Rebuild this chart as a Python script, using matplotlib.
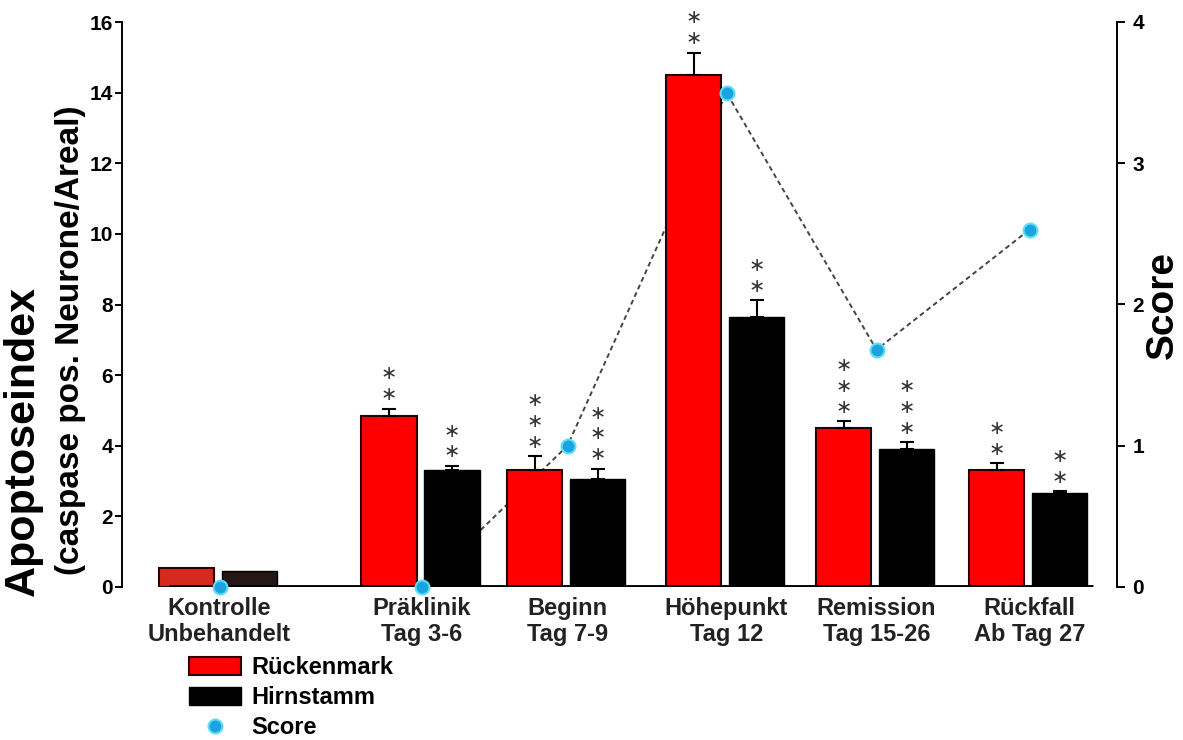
import numpy as np
import matplotlib
matplotlib.use('Agg')
import matplotlib.pyplot as plt
from matplotlib.patches import Patch
from matplotlib.lines import Line2D

plt.rcParams['font.family'] = ['Liberation Sans', 'DejaVu Sans']
plt.rcParams['font.weight'] = 'bold'

# Daten
gruppen = ['Kontrolle\nUnbehandelt', 'Präklinik\nTag 3-6', 'Beginn\nTag 7-9',
           'Höhepunkt\nTag 12', 'Remission\nTag 15-26', 'Rückfall\nAb Tag 27']
x_pos = [0.65, 2.0, 2.97, 4.03, 5.03, 6.05]
rueckenmark = [0.55, 4.85, 3.3, 14.5, 4.5, 3.3]
rueckenmark_err = [0.0, 0.2, 0.4, 0.63, 0.2, 0.2]
hirnstamm = [0.45, 3.3, 3.05, 7.65, 3.9, 2.65]
hirnstamm_err = [0.0, 0.13, 0.3, 0.48, 0.2, 0.07]
score = [0.0, 0.0, 1.0, 3.5, 1.68, 2.53]
sterne_rm = [0, 2, 3, 2, 3, 2]
sterne_hs = [0, 2, 3, 2, 3, 2]

x = np.array(x_pos)
breite = 0.37
x_rm = x - 0.22
x_hs = x + 0.20

fig = plt.figure(figsize=(11.83, 7.4), dpi=100)
ax = fig.add_axes([122/1183, 1-587/740, 995/1183, 565/740])
ax2 = ax.twinx()
ax.set_zorder(2)
ax2.set_zorder(1)
ax.patch.set_visible(False)

farbe_rm = ['#d42a20'] + ['#ff0000']*5
farbe_hs = ['#231815'] + ['#000000']*5
ax.bar(x_rm, rueckenmark, breite, color=farbe_rm, edgecolor='#2a0000', linewidth=1.5, zorder=2)
ax.bar(x_hs, hirnstamm, breite, color=farbe_hs, edgecolor='#000000', linewidth=1.0, zorder=2)

nul = np.zeros(5)
ax.errorbar(x_rm[1:], rueckenmark[1:], yerr=[nul, rueckenmark_err[1:]], fmt='none',
            ecolor='black', elinewidth=1.5, capsize=5, capthick=1.5, zorder=3)
ax.errorbar(x_hs[1:], hirnstamm[1:], yerr=[nul, hirnstamm_err[1:]], fmt='none',
            ecolor='black', elinewidth=1.5, capsize=5, capthick=1.5, zorder=3)

# Sterne
for xs, ys, es, ns in [(x_rm, rueckenmark, rueckenmark_err, sterne_rm),
                       (x_hs, hirnstamm, hirnstamm_err, sterne_hs)]:
    for xi, yi, ei, n in zip(xs, ys, es, ns):
        for k in range(n):
            ax.annotate('\u2217', (xi, yi + ei), xytext=(0, 10 + 15*k),
                        textcoords='offset points', ha='center', va='center',
                        fontsize=14, color='#333333', family='DejaVu Sans',
                        fontweight='normal', zorder=4)

ax.hlines(0, 0.31, 6.47, color='black', lw=3.5, zorder=3)

# Score
ax2.plot(x, score, color='#444444', lw=1.4, ls=(0, (2.5, 1.8)), zorder=1)
ax.plot(x, score, 'o', transform=ax2.transData, ms=10, color='#1aa3e0',
        mec='#60dcf5', mew=1.5, clip_on=False, zorder=5)

ax.set_xlim(0, 995/150)
ax.set_ylim(0, 16)
ax2.set_ylim(0, 4)
ax.set_yticks(np.arange(0, 17, 2))
ax2.set_yticks(np.arange(0, 5, 1))
ax.set_xticks(x)
ax.set_xticklabels(gruppen, fontsize=17, color='#222222', linespacing=1.2)
ax.tick_params(axis='x', length=0, pad=7)
ax.tick_params(axis='y', length=5, width=1.4, labelsize=15, pad=1.5)
ax2.tick_params(axis='y', length=6, width=1.4, labelsize=15, pad=5)

for a in (ax, ax2):
    a.spines['top'].set_visible(False)
    a.spines['bottom'].set_visible(False)
ax.spines['right'].set_visible(False)
ax2.spines['left'].set_visible(False)
ax.spines['left'].set_linewidth(1.4)
ax2.spines['right'].set_linewidth(1.4)

fig.text(23/1183, 1-441/740, 'Apoptoseindex', rotation=90, ha='center', va='center',
         fontsize=31, fontweight='bold')
fig.text(71/1183, 1-340/740, '(caspase pos. Neurone/Areal)', rotation=90, ha='center',
         va='center', fontsize=24, fontweight='bold')
fig.text(1163/1183, 1-305/740, 'Score', rotation=90, ha='center', va='center',
         fontsize=28, fontweight='bold')

handles = [Patch(facecolor='#ff0000', edgecolor='#2a0000', lw=1.5),
           Patch(facecolor='black', edgecolor='black'),
           Line2D([], [], marker='o', ls='none', ms=10, color='#1aa3e0', mec='#60dcf5', mew=1.5)]
fig.legend(handles, ['Rückenmark', 'Hirnstamm', 'Score'], loc='upper left',
           bbox_to_anchor=(189/1183, 1-656/740), frameon=False, fontsize=17,
           handlelength=2.2, handleheight=0.8, labelspacing=0.3, handletextpad=0.45,
           borderpad=0, borderaxespad=0)

fig.savefig('out.png', dpi=100)
